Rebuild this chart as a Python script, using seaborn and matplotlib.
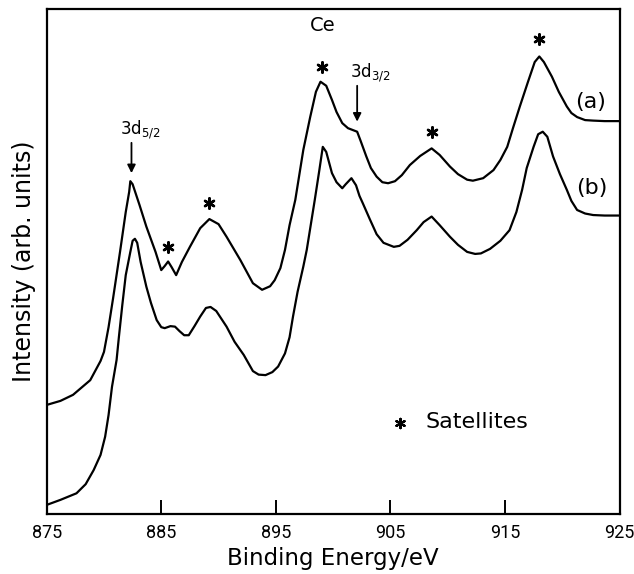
import numpy as np
import pandas as pd
import matplotlib
matplotlib.use("Agg")
import matplotlib.pyplot as plt
import seaborn as sns

# Ce 3d XPS spectra, binding energy (eV) vs intensity (arb. units)
energy_a = [875.0, 876.2, 877.3, 878.8, 879.7, 880.0, 880.4, 880.8, 881.4, 881.9,
            882.2, 882.3, 882.5, 883.1, 883.7, 884.5, 885.0, 885.3, 885.6, 885.9,
            886.3, 886.8, 887.5, 888.4, 889.2, 890.0, 890.7, 891.9, 893.0, 893.8,
            894.5, 894.9, 895.4, 895.8, 896.2, 896.7, 897.4, 898.0, 898.5, 898.9,
            899.4, 899.9, 900.3, 900.8, 901.3, 902.1, 902.4, 902.9, 903.3, 903.8,
            904.3, 904.8, 905.4, 906.0, 906.7, 907.6, 908.6, 909.3, 910.2, 910.9,
            911.7, 912.2, 913.1, 914.0, 914.6, 915.2, 915.7, 916.3, 917.0, 917.6,
            918.0, 918.4, 919.1, 919.7, 920.4, 920.8, 921.3, 922.0, 922.7, 923.7,
            925.0]
intensity_a = [21.6, 22.4, 23.6, 26.5, 30.3, 32.1, 37.0, 42.8, 51.9, 59.8,
               63.8, 65.9, 65.3, 61.2, 56.9, 51.9, 48.3, 49.1, 50.0, 48.9,
               47.3, 49.9, 52.9, 56.6, 58.4, 57.4, 54.9, 50.3, 45.7, 44.4,
               45.1, 46.3, 48.7, 52.3, 57.2, 62.2, 72.1, 78.6, 83.6, 85.6,
               84.8, 82.0, 79.6, 77.4, 76.4, 75.7, 73.9, 70.8, 68.5, 66.8,
               65.7, 65.5, 65.9, 67.1, 69.1, 70.9, 72.4, 71.1, 68.8, 67.3,
               66.2, 66.0, 66.5, 68.1, 70.1, 72.7, 76.4, 80.7, 85.5, 89.5,
               90.6, 89.5, 86.6, 83.6, 80.7, 79.4, 78.6, 78.0, 77.9, 77.8,
               77.8]

energy_b = [875.0, 876.2, 877.6, 878.4, 879.1, 879.7, 880.1, 880.4, 880.7, 881.1,
            881.3, 881.6, 881.9, 882.3, 882.5, 882.7, 882.9, 883.2, 883.7, 884.1,
            884.6, 885.0, 885.3, 885.8, 886.2, 886.6, 887.0, 887.4, 887.9, 888.4,
            888.9, 889.3, 889.8, 890.7, 891.4, 892.2, 893.0, 893.5, 894.1, 894.7,
            895.2, 895.8, 896.2, 896.5, 896.9, 897.4, 897.7, 898.4, 898.8, 899.1,
            899.4, 899.9, 900.3, 900.8, 901.1, 901.6, 902.0, 902.3, 902.6, 903.2,
            903.8, 904.4, 905.3, 905.8, 906.5, 907.3, 907.9, 908.6, 909.3, 910.2,
            910.9, 911.7, 912.4, 912.9, 913.7, 914.6, 915.4, 916.0, 916.5, 916.9,
            917.5, 917.9, 918.3, 918.7, 919.2, 919.8, 920.4, 920.8, 921.3, 922.0,
            922.7, 923.7, 925.0]
intensity_b = [1.8, 2.8, 4.1, 5.9, 8.7, 11.7, 15.3, 19.6, 25.2, 30.5,
               35.0, 41.4, 47.3, 51.9, 54.1, 54.5, 53.7, 49.9, 45.0, 41.8,
               38.4, 37.0, 36.8, 37.2, 37.1, 36.2, 35.4, 35.4, 37.2, 39.1,
               40.8, 41.0, 40.2, 37.1, 34.1, 31.5, 28.3, 27.6, 27.5, 28.1,
               29.2, 31.8, 35.0, 39.1, 44.0, 49.0, 52.3, 62.2, 68.1, 72.7,
               71.7, 67.5, 65.7, 64.5, 65.3, 66.5, 65.1, 63.0, 61.5, 58.4,
               55.4, 53.7, 52.9, 53.1, 54.3, 56.2, 57.8, 58.9, 57.2, 54.9,
               53.3, 51.9, 51.5, 51.6, 52.5, 54.1, 56.2, 59.8, 64.2, 68.5,
               72.7, 75.2, 75.7, 74.7, 70.8, 67.3, 64.2, 62.0, 60.2, 59.5,
               59.2, 59.1, 59.1]

series_labels = ["(a)", "(b)"]
series_label_energy = [922.5, 922.6]
series_label_level = [81.6, 64.6]

# Satellite features marked with asterisks
sat_energy = [885.6, 889.2, 899.0, 908.6, 918.0]
sat_level = [52.8, 61.6, 88.6, 75.7, 94.0]

# Spin-orbit main lines
core_labels = ["3d$_{5/2}$", "3d$_{3/2}$"]
core_energy = [882.4, 902.1]
core_tip = [67.5, 77.7]
core_tail = [73.5, 84.8]
core_text_energy = [883.2, 903.2]

x_ticks = [875, 885, 895, 905, 915, 925]

df = pd.concat([
    pd.DataFrame({"energy": energy_a, "intensity": intensity_a, "sample": series_labels[0]}),
    pd.DataFrame({"energy": energy_b, "intensity": intensity_b, "sample": series_labels[1]}),
])

sns.set_theme(style="ticks")
plt.rcParams["font.family"] = ["DejaVu Sans"]

fig = plt.figure(figsize=(6.34, 5.74), dpi=100)
ax = fig.add_axes([46.7 / 634, 60 / 574, 572.8 / 634, 505 / 574])

sns.lineplot(data=df, x="energy", y="intensity", hue="sample",
             palette=["black", "black"], linewidth=1.6, legend=False,
             sort=False, ax=ax, solid_joinstyle="round", solid_capstyle="round")

ax.set_xlim(875, 925)
ax.set_ylim(0, 100)
ax.set_xticks(x_ticks)
ax.set_xticklabels([str(t) for t in x_ticks], fontsize=13, family="Roboto")
ax.set_yticks([])
ax.tick_params(axis="x", direction="in", length=10, width=1.4, pad=7,
               colors="black", top=False)
for side in ["left", "right", "top", "bottom"]:
    ax.spines[side].set_visible(True)
    ax.spines[side].set_linewidth(1.6)
    ax.spines[side].set_color("black")

ax.set_xlabel("Binding Energy/eV", fontsize=16.5, color="black")
ax.set_ylabel("Intensity (arb. units)", fontsize=17, color="black")
ax.xaxis.set_label_coords(0.5, -0.065)
ax.yaxis.set_label_coords(-0.018, 0.5)

# Curve labels
for lab, ex, ey in zip(series_labels, series_label_energy, series_label_level):
    ax.text(ex, ey, lab, fontsize=16, ha="center", va="center", color="black")

# Element label
ax.text(899.1, 96.8, "Ce", fontsize=14, ha="center", va="center", color="black")

# Satellite asterisks
ax.scatter(sat_energy, sat_level, marker=(6, 2, 0), s=55, linewidths=1.8,
           color="black", zorder=5)

# Legend entry for satellites
ax.scatter([905.8], [18.1], marker=(6, 2, 0), s=45, linewidths=1.6,
           color="black", zorder=5)
ax.text(908.1, 18.3, "Satellites", fontsize=16, ha="left", va="center", color="black")

# Spin-orbit arrows and labels
for lab, e, tip, tail, te in zip(core_labels, core_energy, core_tip, core_tail, core_text_energy):
    ax.annotate("", xy=(e, tip), xytext=(e, tail),
                arrowprops=dict(arrowstyle="-|>", color="black", lw=1.3,
                                mutation_scale=12, shrinkA=0, shrinkB=0))
    ax.text(te, tail + 0.3, lab, fontsize=12, ha="center", va="bottom", color="black")

fig.savefig("out.png", dpi=100, facecolor="white")
